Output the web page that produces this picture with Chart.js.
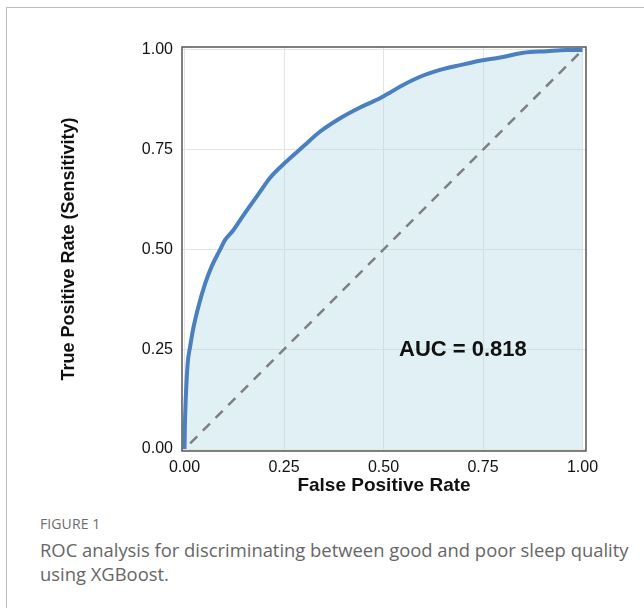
<!DOCTYPE html>
<html>
<head>
<meta charset="utf-8">
<script src="https://cdn.jsdelivr.net/npm/chart.js@4"></script>
<style>
  html, body { margin: 0; padding: 0; background: #fff; }
  body { width: 644px; height: 608px; position: relative; overflow: hidden; }
  .frame { position: absolute; left: 6px; top: 7px; right: -10px; bottom: -10px;
           border-left: 1px solid #bdbdbd; border-top: 1px solid #bdbdbd; }
  #wrap { position: absolute; left: 0; top: 0; width: 644px; height: 500px; }
  .fig-label { position: absolute; left: 40px; top: 514px; font-family: "Open Sans", sans-serif;
               font-size: 14px; color: #6d6d6d; letter-spacing: 0.1px; }
  .fig-caption { position: absolute; left: 40px; top: 538px; width: 600px; font-family: "Open Sans", sans-serif;
                 font-size: 18.4px; line-height: 24px; color: #666; }
</style>
</head>
<body>
<div class="frame"></div>
<div id="wrap"><canvas id="rocChart" width="644" height="500"></canvas></div>
<div class="fig-label">FIGURE 1</div>
<div class="fig-caption">ROC analysis for discriminating between good and poor sleep quality using XGBoost.</div>

<script>
// ROC curve
const fpr = [0, 0.001, 0.003, 0.008, 0.014, 0.022, 0.035, 0.052, 0.068, 0.089, 0.102, 0.123, 0.144, 0.165,
  0.190, 0.215, 0.253, 0.298, 0.340, 0.391, 0.441, 0.491, 0.516, 0.541, 0.592, 0.642, 0.692, 0.742,
  0.793, 0.851, 0.910, 0.960, 1.0];
const tpr = [0, 0.06, 0.123, 0.215, 0.256, 0.302, 0.357, 0.415, 0.457, 0.499, 0.524, 0.549, 0.580, 0.610,
  0.645, 0.680, 0.718, 0.758, 0.795, 0.829, 0.856, 0.879, 0.893, 0.908, 0.933, 0.950, 0.962, 0.973,
  0.981, 0.993, 0.997, 1.0, 1.0];
const chanceX = [0, 1];
const chanceY = [0, 1];
const tickValues = [0, 0.25, 0.5, 0.75, 1];
const aucText = "AUC = 0.818";
const aucPos = { x: 0.539, y: 0.248 };

const rocPoints = fpr.map((x, i) => ({ x: x, y: tpr[i] }));
const chancePoints = chanceX.map((x, i) => ({ x: x, y: chanceY[i] }));

// box around the plot area + AUC label
const plotExtras = {
  id: "plotExtras",
  afterDatasetsDraw(chart) {
    const { ctx, chartArea, scales } = chart;
    ctx.save();
    ctx.strokeStyle = "#555";
    ctx.lineWidth = 1.5;
    ctx.strokeRect(chartArea.left, chartArea.top, chartArea.right - chartArea.left, chartArea.bottom - chartArea.top);
    ctx.fillStyle = "#111";
    ctx.font = "bold 22px 'Liberation Sans', Arial, sans-serif";
    ctx.textBaseline = "middle";
    ctx.textAlign = "left";
    ctx.fillText(aucText, scales.x.getPixelForValue(aucPos.x), scales.y.getPixelForValue(aucPos.y));
    ctx.restore();
  }
};

const fixedTicks = scale => { scale.ticks = tickValues.map(v => ({ value: v })); };

new Chart(document.getElementById("rocChart"), {
  type: "scatter",
  data: {
    datasets: [
      {
        data: chancePoints,
        showLine: true,
        borderColor: "#7f7f7f",
        borderWidth: 2.5,
        borderDash: [10, 8],
        borderDashOffset: 10,
        pointRadius: 0,
        fill: false
      },
      {
        data: rocPoints,
        showLine: true,
        borderColor: "#4a7fc0",
        borderWidth: 4,
        pointRadius: 0,
        cubicInterpolationMode: "monotone",
        fill: { target: "origin", above: "rgba(173,216,230,0.38)" },
        backgroundColor: "rgba(173,216,230,0.38)"
      }
    ]
  },
  options: {
    responsive: false,
    animation: false,
    layout: { padding: { left: 50, top: 47, right: 58, bottom: 0 } },
    plugins: { legend: { display: false }, tooltip: { enabled: false } },
    scales: {
      x: {
        type: "linear",
        min: -0.0063,
        max: 1.0088,
        afterBuildTicks: fixedTicks,
        afterFit: s => { s.height = 49; },
        border: { display: false },
        grid: { color: "#e4e4e4", lineWidth: 1, drawTicks: false },
        ticks: {
          padding: 7,
          color: "#111",
          font: { family: "'Liberation Sans', Arial, sans-serif", size: 16 },
          callback: v => v.toFixed(2)
        },
        title: {
          display: true,
          text: "False Positive Rate",
          color: "#111",
          padding: { top: 0, bottom: 3 },
          font: { family: "'Liberation Sans', Arial, sans-serif", size: 19, weight: "bold" }
        }
      },
      y: {
        type: "linear",
        min: -0.005,
        max: 1.0075,
        afterBuildTicks: fixedTicks,
        afterFit: s => { s.width = 132; },
        border: { display: false },
        grid: { color: "#e4e4e4", lineWidth: 1, drawTicks: false },
        ticks: {
          padding: 9,
          color: "#111",
          font: { family: "'Liberation Sans', Arial, sans-serif", size: 16 },
          callback: v => v.toFixed(2)
        },
        title: {
          display: true,
          text: "True Positive Rate (Sensitivity)",
          color: "#111",
          padding: { top: 8, bottom: 0 },
          font: { family: "'Liberation Sans', Arial, sans-serif", size: 18, weight: "bold" }
        }
      }
    }
  },
  plugins: [plotExtras]
});
</script>
</body>
</html>
